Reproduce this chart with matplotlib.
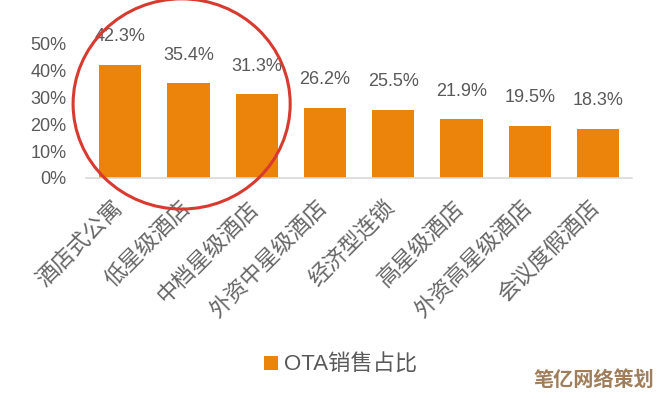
import matplotlib
matplotlib.use("Agg")
import matplotlib.pyplot as plt
import matplotlib.transforms as mtransforms
from matplotlib.patches import Ellipse

# ===== DATA =====
categories = ["酒店式公寓", "低星级酒店", "中档星级酒店", "外资中星级酒店",
              "经济型连锁", "高星级酒店", "外资高星级酒店", "会议度假酒店"]
ota_share = [42.3, 35.4, 31.3, 26.2, 25.5, 21.9, 19.5, 18.3]
yticks = [0, 10, 20, 30, 40, 50]
series_name = "OTA销售占比"

bar_color = "#EC830A"
text_gray = "#595959"

plt.rcParams['font.family'] = ['Liberation Sans', 'Noto Sans CJK SC', 'DejaVu Sans']

fig = plt.figure(figsize=(6.62, 3.99), dpi=100)
ax = fig.add_axes([0.130, 0.554, 0.825, 0.336])

x = list(range(len(categories)))
bars = ax.bar(x, ota_share, width=0.62, color=bar_color, label=series_name)

ax.set_xlim(-0.5, len(categories) - 0.5)
ax.set_ylim(0, 50)
ax.set_yticks(yticks)
ax.set_yticklabels([f"{v}%" for v in yticks], color=text_gray, fontsize=13)
ax.tick_params(axis='y', length=0, pad=14)

ax.set_xticks(x)
ax.set_xticklabels(categories, rotation=45, ha='right', va='top',
                   rotation_mode='anchor', color='#666666', fontsize=16,
                   family=['Noto Sans CJK SC'], fontweight='light')
ax.tick_params(axis='x', length=0, pad=13)
# nudge the rotated labels a little to the left
shift = mtransforms.ScaledTranslation(-10 / 100, 0, fig.dpi_scale_trans)
for lbl in ax.get_xticklabels():
    lbl.set_transform(lbl.get_transform() + shift)

for s in ['top', 'right', 'left']:
    ax.spines[s].set_visible(False)
ax.spines['bottom'].set_color('#D9D9D9')
ax.spines['bottom'].set_linewidth(1.2)

# value labels
for xi, v in zip(x, ota_share):
    ax.annotate(f"{v}%", (xi, v), xytext=(0, 14), textcoords='offset points',
                ha='center', va='bottom', color=text_gray, fontsize=13,
                annotation_clip=False)

# red highlight circle around the first three bars
circ = Ellipse((0.9, 27.6), 3.18, 78.4, fill=False, edgecolor='#D93A2F',
               linewidth=2.2, clip_on=False, zorder=5)
ax.add_patch(circ)

leg = fig.legend(handles=[bars], labels=[series_name], loc='center',
                 bbox_to_anchor=(0.515, 0.085), frameon=False,
                 handlelength=0.6, handleheight=0.6, handletextpad=0.3,
                 prop={'family': ['Liberation Sans', 'Noto Sans CJK SC'], 'size': 16})
for t in leg.get_texts():
    t.set_color(text_gray)

# watermark
fig.text(0.897, 0.048, "笔亿网络策划", ha='center', va='center', fontsize=14.5,
         fontweight='bold', color='#A07E5C', family=['Noto Sans CJK SC'])

plt.savefig("out.png", dpi=100)
